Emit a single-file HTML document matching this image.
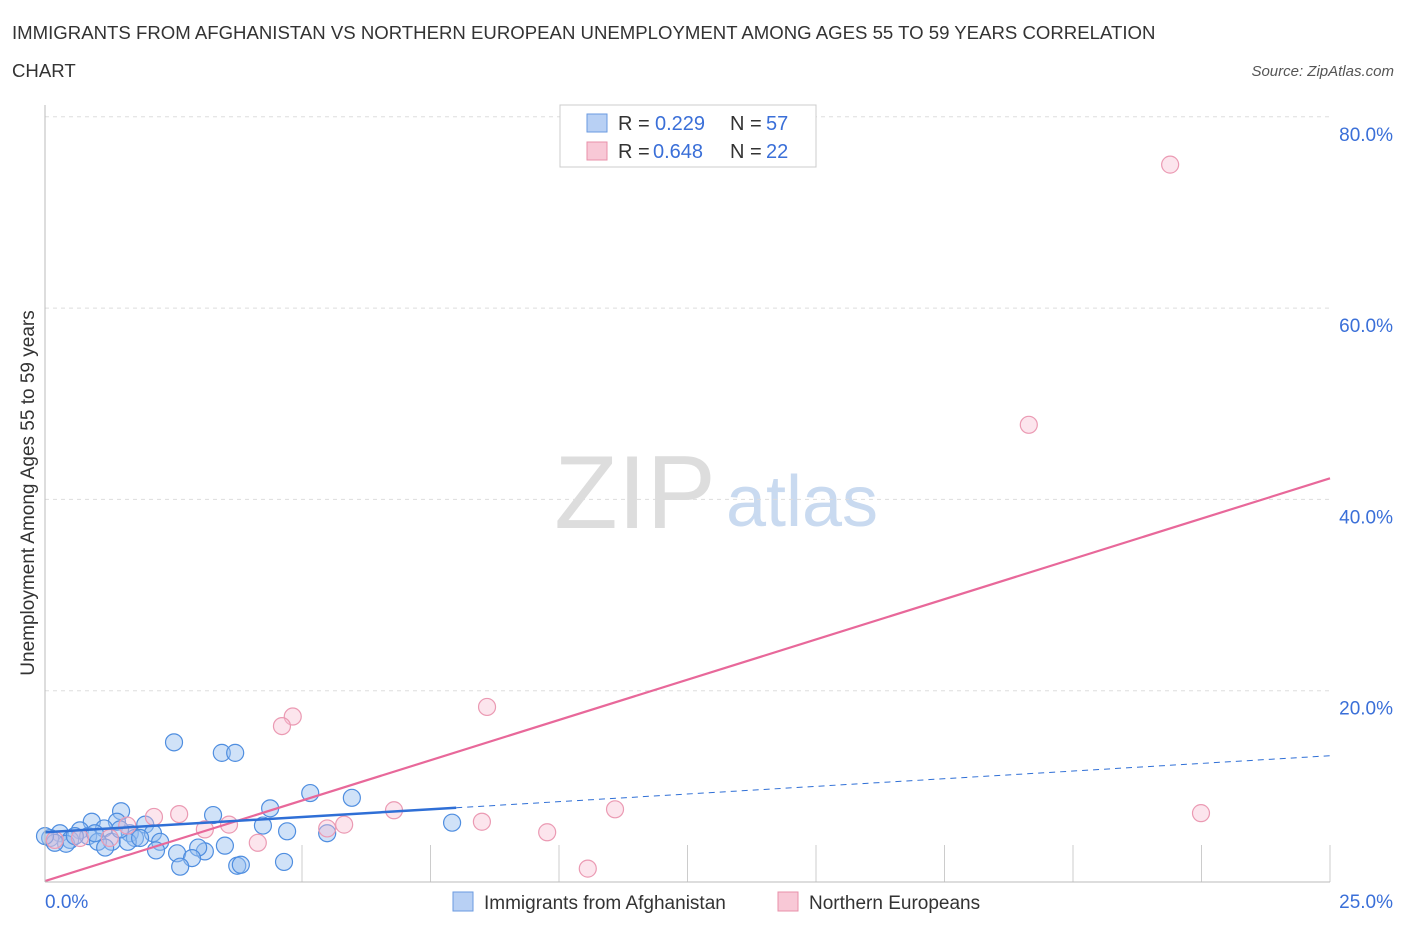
<!DOCTYPE html>
<html><head><meta charset="utf-8"><style>
body{margin:0;background:#fff;font-family:"Liberation Sans",sans-serif;}
svg text{font-family:"Liberation Sans",sans-serif;}
</style></head><body>
<svg id="chart" width="1406" height="930">
<text x="12" y="39" font-size="18.6" fill="#333">IMMIGRANTS FROM AFGHANISTAN VS NORTHERN EUROPEAN UNEMPLOYMENT AMONG AGES 55 TO 59 YEARS CORRELATION</text>
<text x="12" y="77" font-size="18.6" fill="#333">CHART</text>
<text x="1394" y="76" font-size="15" fill="#555" font-style="italic" text-anchor="end">Source: ZipAtlas.com</text>
<text x="34" y="493" font-size="19" fill="#333" text-anchor="middle" transform="rotate(-90 34 493)">Unemployment Among Ages 55 to 59 years</text>
<text x="635" y="528" font-size="104" fill="#ddd" text-anchor="middle" font-family="Liberation Serif">ZIP</text>
<text x="802" y="526" font-size="72" fill="#c9daf0" text-anchor="middle">atlas</text>
<g id="grid"></g><g id="marks"></g>
<line x1="45" y1="105" x2="45" y2="882" stroke="#bbb"/>
<line x1="45" y1="882" x2="1330" y2="882" stroke="#bbb"/>
<text x="45" y="908" font-size="19" fill="#3a6fd8">0.0%</text>
<text x="1393" y="908" font-size="19" fill="#3a6fd8" text-anchor="end">25.0%</text>
<g>
<rect x="560" y="105" width="256" height="62" fill="#fff" stroke="#ccc"/>
<rect x="587" y="114" width="20" height="18" fill="#b8d0f4" stroke="#6a9ae0"/>
<text x="618" y="130" font-size="20" fill="#333">R =</text><text x="655" y="130" font-size="20" fill="#3a6fd8">0.229</text>
<text x="730" y="130" font-size="20" fill="#333">N =</text><text x="766" y="130" font-size="20" fill="#3a6fd8">57</text>
<rect x="587" y="142" width="20" height="18" fill="#f8c8d6" stroke="#e890aa"/>
<text x="618" y="158" font-size="20" fill="#333">R =</text><text x="653" y="158" font-size="20" fill="#3a6fd8">0.648</text>
<text x="730" y="158" font-size="20" fill="#333">N =</text><text x="766" y="158" font-size="20" fill="#3a6fd8">22</text>
</g>
<g><rect x="453" y="892" width="20" height="19" fill="#b8d0f4" stroke="#6a9ae0"/><text x="484" y="909" font-size="19" fill="#333">Immigrants from Afghanistan</text></g>
<g><rect x="778" y="892" width="20" height="19" fill="#f8c8d6" stroke="#e890aa"/><text x="809" y="909" font-size="19" fill="#333">Northern Europeans</text></g>
</svg>
<script>
const yTicks=[20,40,60,80];
const blueX=[2.51,3.44,3.70,5.16,5.97,4.38,3.27,1.48,0.91,1.95,4.24,4.71,5.49,7.92,1.40,1.15,0.68,0.29,0.10,0.49,0.84,1.65,2.10,2.24,1.75,1.30,1.03,0.41,0.19,1.17,2.16,2.57,3.11,2.98,3.50,2.86,2.63,3.74,3.81,4.65,1.61,1.85,0.58,0.0,1.46,0.97];
const blueY=[14.6,13.5,13.5,9.3,8.8,7.7,7.0,7.4,6.3,6.0,5.9,5.3,5.1,6.2,6.3,5.6,5.4,5.1,4.6,4.4,4.8,5.1,5.1,4.2,4.6,4.2,4.2,4.0,4.1,3.6,3.3,3.0,3.2,3.6,3.8,2.5,1.6,1.7,1.8,2.1,4.2,4.6,4.8,4.8,5.5,5.1];
const pinkX=[21.89,19.14,4.82,4.61,8.60,2.61,2.12,6.79,11.09,22.49,8.50,9.77,10.56,5.49,5.82,3.58,3.11,4.14,1.60,0.19,0.68,1.26];
const pinkY=[75.0,47.8,17.3,16.3,18.3,7.1,6.8,7.5,7.6,7.2,6.3,5.2,1.4,5.6,6.0,6.0,5.5,4.1,5.9,4.4,4.6,4.6];
const blueTrend=[5.2,13.2];
const pinkTrend=[0.1,42.2];
const xTickVals=[2.5,5,7.5,10,12.5,15,17.5,20,22.5,25];
const NS='http://www.w3.org/2000/svg';
const sx=v=>45+v/25*1285, sy=v=>882-v/20*191.3;
const grid=document.getElementById('grid'), marks=document.getElementById('marks');
function mk(tag,attrs,parent){const e=document.createElementNS(NS,tag);for(const k in attrs)e.setAttribute(k,attrs[k]);parent.appendChild(e);return e;}
yTicks.forEach(t=>{
 const l=mk('line',{x1:45,x2:1330,y1:sy(t),y2:sy(t),stroke:'#ddd','stroke-dasharray':'4 4'},grid);
 
 
 const tx=mk('text',{x:1393,y:sy(t)+24,'font-size':19,fill:'#3a6fd8','text-anchor':'end'},grid);
 tx.textContent=t.toFixed(1)+'%';
 
 
});
xTickVals.forEach(t=>{
 if(t<5)return;
 const l=mk('line',{x1:sx(t),x2:sx(t),y1:845,y2:882,stroke:'#ccc'},grid);
 
 
});
blueX.forEach((x,i)=>{
 const c=mk('circle',{cx:sx(x),cy:sy(blueY[i]),r:8.5,fill:'rgba(150,190,240,0.45)',stroke:'#4f8ee0','stroke-width':1.2},marks);
 
 
});
pinkX.forEach((x,i)=>{
 const c=mk('circle',{cx:sx(x),cy:sy(pinkY[i]),r:8.5,fill:'rgba(248,190,210,0.4)',stroke:'#eb9ab3','stroke-width':1.2},marks);
 
 
});
const pl=mk('line',{x1:sx(0),y1:sy(pinkTrend[0]),x2:sx(25),y2:sy(pinkTrend[1]),stroke:'#e8689a','stroke-width':2.2},marks);


const bAt=x=>blueTrend[0]+(blueTrend[1]-blueTrend[0])*x/25;
const bl=mk('line',{x1:sx(0),y1:sy(bAt(0)),x2:sx(8),y2:sy(bAt(8)),stroke:'#2f6fd6','stroke-width':2.5},marks);


const bd=mk('line',{x1:sx(8),y1:sy(bAt(8)),x2:sx(25),y2:sy(bAt(25)),stroke:'#2f6fd6','stroke-width':1,'stroke-dasharray':'6 5'},marks);


</script>
</body></html>
